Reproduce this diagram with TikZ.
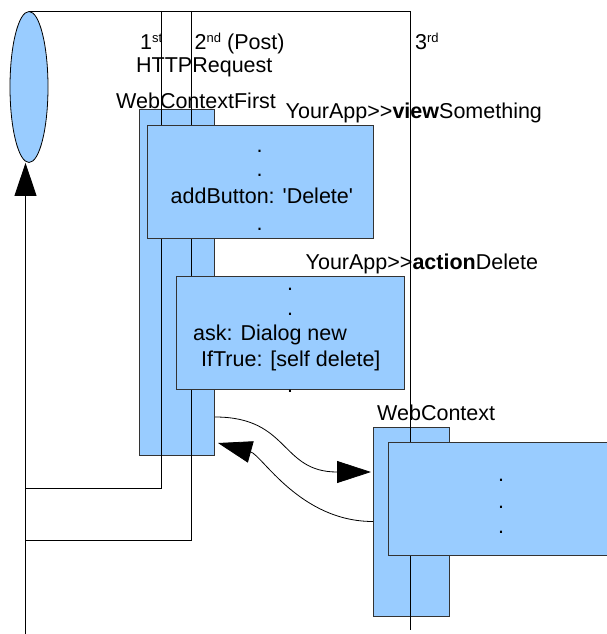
\documentclass[tikz,border=0pt]{standalone}
\usepackage{fontspec}
\newfontfamily\uifont{Liberation Sans}
\usetikzlibrary{arrows.meta,shapes.geometric}
\definecolor{ctxblue}{HTML}{99CCFF}
\newcommand{\ordsup}[1]{\raisebox{8pt}{\fontsize{13}{13}\selectfont #1}}

\begin{document}
\begin{tikzpicture}[x=1pt,y=-1pt,font=\uifont\fontsize{21.5}{25}\selectfont,
  activ/.style={draw=black!80,fill=ctxblue,line width=0.8pt,inner sep=0,anchor=north west},
  method/.style={draw=black!80,fill=ctxblue,line width=0.8pt,inner sep=0,anchor=north west},
  life/.style={line width=0.9pt},
  lbl/.style={inner sep=0,anchor=base west},
  dot/.style={inner sep=0,anchor=base},
  msg/.style={line width=0.8pt,-{Triangle[length=34pt,width=22pt]}}]

\useasboundingbox (0,0) rectangle (606,634);

% user
\node [ellipse,draw,fill=ctxblue,line width=0.8pt,inner sep=0,minimum width=38,minimum height=151] (user) at (29,87) {};
% activations
\node [activ,minimum width=75,minimum height=346] (wcfirst) at (139,109) {};
\node [activ,minimum width=76,minimum height=189] (wctx) at (373,427) {};
% requests
\coordinate (ret) at (25.5,634);
\draw [life] (user.north) -| (410,630);
\draw [life] (161.5,11) -- (161.5,488) -- (ret |- 0,488);
\draw [life] (191.5,11) -- (191.5,540) -- (ret |- 0,540);
\draw [life,-{Triangle[length=33pt,width=22pt]}] (ret) -- (ret |- user.south);
% method boxes
\node [method,minimum width=226,minimum height=113] (view) at (147,125) {};
\node [method,minimum width=228,minimum height=113] (action) at (176,276) {};
\node [method,minimum width=240,minimum height=113] (render) at (388,442) {};
% labels
\node [lbl] (first) at (140,50) {1\ordsup{st}};
\node [lbl] (second) at (194.5,50) {2\ordsup{nd} (Post)};
\node [lbl] (third) at (415,50) {3\ordsup{rd}};
\node [lbl] (http) at (136,72.7) {HTTPRequest};
\node [lbl] (wcfirstlbl) at (116,108) {WebContextFirst};
\node [lbl] (viewlbl) at (285.5,118) {YourApp>>\textbf{view}Something};
\node [lbl] (actionlbl) at (305.5,269) {YourApp>>\textbf{action}Delete};
\node [lbl] (wctxlbl) at (377,420) {WebContext};
% code in the boxes
\node [dot] at (259.5,152) {.};
\node [dot] at (259.5,176.5) {.};
\node [lbl] (addbtn) at (170.5,203.3) {addButton: 'Delete'};
\node [dot] at (259.5,230) {.};
\node [dot] at (290,290.5) {.};
\node [dot] at (290,315.5) {.};
\node [lbl] (ask) at (193,340.7) {ask: Dialog new};
\node [lbl] (iftrue) at (201,366) {IfTrue: [self delete]};
\node [dot] at (290,392.5) {.};
\node [dot] at (501,481.5) {.};
\node [dot] at (501,508) {.};
\node [dot] at (501,533) {.};
% messages
\coordinate (callout) at (215,417);
\coordinate (callin) at (371,472);
\coordinate (backout) at (373,521.5);
\coordinate (backin) at (218,443);
\draw [msg] (callout) .. controls (290,417) and (280,472) .. (callin);
\draw [msg] (backout) .. controls (300,521.5) and (262,455) .. (backin);

\end{tikzpicture}
\end{document}
